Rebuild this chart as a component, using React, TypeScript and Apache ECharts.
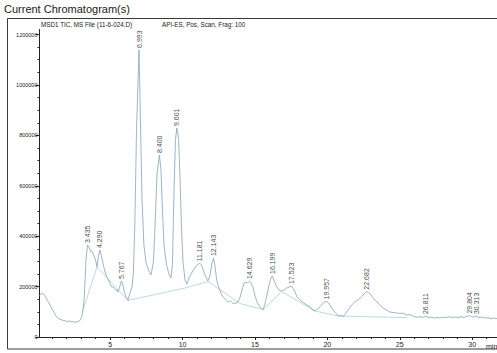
import React, { useEffect, useRef } from "react";
import * as echarts from "echarts";

// Retention time (min)
const times = [
  0.12, 0.3, 0.45, 0.57, 0.77, 1.03, 1.26, 1.45, 1.6, 1.75, 1.88, 2.0, 2.15, 2.3, 2.43, 2.6, 2.71, 2.82, 2.91,
  3.05, 3.13, 3.21, 3.28, 3.33, 3.435, 3.54, 3.67, 3.75, 3.81, 3.92, 4.02, 4.09, 4.19, 4.29, 4.4, 4.5, 4.61,
  4.71, 4.85, 4.99, 5.12, 5.2, 5.26, 5.4, 5.48, 5.54, 5.64, 5.767, 5.85, 5.95, 6.09, 6.23, 6.37, 6.51, 6.61,
  6.71, 6.82, 6.993, 7.09, 7.2, 7.33, 7.47, 7.64, 7.82, 7.99, 8.13, 8.23, 8.4, 8.51, 8.61, 8.72, 8.89, 9.06,
  9.2, 9.3, 9.41, 9.51, 9.601, 9.72, 9.82, 9.92, 10.03, 10.17, 10.3, 10.44, 10.63, 10.79, 10.93, 11.05,
  11.181, 11.31, 11.44, 11.58, 11.75, 11.89, 12.02, 12.143, 12.24, 12.36, 12.51, 12.7, 12.86, 13.0, 13.16,
  13.31, 13.45, 13.62, 13.79, 13.96, 14.1, 14.24, 14.38, 14.48, 14.629, 14.74, 14.88, 15.0, 15.17, 15.35,
  15.55, 15.69, 15.83, 15.97, 16.11, 16.199, 16.31, 16.48, 16.66, 16.84, 17.0, 17.18, 17.35, 17.523, 17.62,
  17.76, 17.9, 18.11, 18.32, 18.57, 18.73, 18.87, 19.0, 19.14, 19.32, 19.49, 19.66, 19.8, 19.957, 20.09,
  20.3, 20.46, 20.59, 20.76, 20.91, 21.1, 21.28, 21.44, 21.63, 21.91, 22.11, 22.37, 22.53, 22.682, 22.84,
  23.01, 23.17, 23.36, 23.49, 23.63, 23.84, 24.09, 24.32, 24.53, 24.78, 25.01, 25.22, 25.48, 25.7, 25.91,
  26.17, 26.4, 26.61, 26.811, 26.95, 27.16, 27.36, 27.57, 27.78, 27.98, 28.19, 28.4, 28.61, 28.81, 29.02,
  29.23, 29.43, 29.64, 29.804, 29.95, 30.09, 30.313, 30.47, 30.68, 30.88, 31.09, 31.3, 31.5, 31.71, 31.92,
  32.2, 32.5, 32.8, 33.0,
];

// TIC abundance
const intensity = [
  166000, 174000, 168000, 155000, 135000, 107000, 83000, 72000, 69000, 66000, 65000, 61000, 63500, 60000,
  61500, 58000, 60000, 62000, 65000, 83000, 110000, 159000, 240000, 305000, 365000, 357000, 337000, 340000,
  333000, 317000, 298000, 278000, 321000, 345000, 321000, 294000, 266000, 246000, 230000, 210000, 198000,
  200000, 194000, 186000, 188000, 179000, 194000, 222000, 214000, 186000, 159000, 145000, 175000, 198000,
  258000, 464000, 821000, 1139000, 861000, 544000, 365000, 298000, 266000, 246000, 298000, 484000, 643000,
  722000, 663000, 504000, 365000, 286000, 250000, 234000, 286000, 583000, 782000, 829000, 790000, 643000,
  444000, 298000, 226000, 210000, 234000, 254000, 270000, 282000, 288000, 292000, 286000, 262000, 242000,
  222000, 242000, 290000, 313000, 282000, 226000, 194000, 167000, 155000, 147000, 139000, 143000, 135000,
  133000, 137000, 155000, 186000, 214000, 218000, 214000, 222000, 214000, 194000, 163000, 135000, 119000,
  107000, 131000, 167000, 206000, 234000, 242000, 226000, 202000, 186000, 183000, 186000, 194000, 198000,
  202000, 194000, 181000, 159000, 147000, 137000, 127000, 123000, 115000, 107000, 104000, 111000, 120000,
  131000, 139000, 141000, 135000, 114000, 103000, 95000, 83000, 87000, 81000, 95000, 107000, 123000, 140000,
  147000, 160000, 171000, 180000, 177000, 167000, 154000, 143000, 135000, 127000, 115000, 107000, 99000,
  97000, 96000, 93000, 95000, 87000, 89000, 83000, 78000, 81000, 77000, 83000, 77000, 79000, 75000, 78000,
  75000, 79000, 77000, 81000, 77000, 79000, 77000, 81000, 78000, 82000, 85000, 81000, 79000, 83000, 77000,
  79000, 75000, 77000, 73000, 75000, 73000, 75000, 72000, 74000, 71000, 73000,
];

// Integration baseline (drop points)
const baseTimes = [3.1, 4.09, 6.23, 10.28, 11.77, 13.96, 15.57, 16.84, 19.16, 20.75, 25.48];
const baseValues = [103000, 278000, 145000, 196000, 220000, 133000, 109000, 180000, 103000, 83000, 77000];

// Peak labels
const peakLabels = [
  "3.435", "4.290", "5.767", "6.993", "8.400", "9.601", "11.181", "12.143",
  "14.629", "16.199", "17.523", "19.957", "22.682", "26.811", "29.804", "30.313",
];
const peakHeights = [
  365000, 345000, 222000, 1139000, 722000, 829000, 292000, 313000,
  222000, 242000, 202000, 141000, 180000, 83000, 85000, 83000,
];

const xMajor = [5, 10, 15, 20, 25, 30];
const xMinor = [1, 2, 3, 4, 6, 7, 8, 9, 11, 12, 13, 14, 16, 17, 18, 19, 21, 22, 23, 24, 26, 27, 28, 29, 31, 32, 33];
const yMajor = [0, 200000, 400000, 600000, 800000, 1000000, 1200000];
const yMinor = [50000, 100000, 150000, 250000, 300000, 350000, 450000, 500000, 550000, 650000, 700000, 750000,
  850000, 900000, 950000, 1050000, 1100000, 1150000];

const title = "Current Chromatogram(s)";
const subtitle1 = "MSD1 TIC, MS File (11-6-024.D)";
const subtitle2 = "API-ES, Pos, Scan, Frag: 100";
const xUnit = "min";

const FONT = "'Liberation Sans', Arial, sans-serif";

export default function App() {
  const ref = useRef<HTMLDivElement>(null);
  useEffect(() => {
    if (!ref.current) return;
    const chart = echarts.init(ref.current, null, { renderer: "svg" });
    const line = times.map((t, i) => [t, intensity[i]]);
    const base = baseTimes.map((t, i) => [t, baseValues[i]]);
    const peaks = peakLabels.map((l, i) => [parseFloat(l), peakHeights[i], l]);
    const axisColor = "#222";
    const xMin = 0.12, xMax = 33, yMax = 1220000;
    chart.setOption({
      animation: false,
      grid: { left: 39.5, right: 24.4, top: 29.5, bottom: 16 },
      graphic: [
        { type: "rect", z: -1, shape: { x: 7.5, y: 18.5, width: 600, height: 330.5 }, style: { fill: "none", stroke: "#3a3a3a", lineWidth: 1 } },
        { type: "text", left: 4, top: 3, style: { text: title, fontSize: 11, fontFamily: FONT, fill: "#222" } },
        { type: "text", left: 41, top: 21.5, style: { text: subtitle1, fontSize: 6.3, fontFamily: FONT, fill: "#222" } },
        { type: "text", left: 162, top: 21.5, style: { text: subtitle2, fontSize: 6.3, fontFamily: FONT, fill: "#222" } },
        { type: "text", left: 486, top: 342.5, style: { text: xUnit, fontSize: 7, fontFamily: FONT, fill: "#222" } },
      ],
      xAxis: [
        {
          type: "value", min: xMin, max: xMax, position: "bottom",
          axisLine: { lineStyle: { color: axisColor, width: 1 } },
          axisTick: { show: true, length: 3, customValues: xMajor, lineStyle: { color: axisColor } },
          axisLabel: { customValues: xMajor, fontSize: 7, fontFamily: FONT, color: "#222", margin: 4 },
          splitLine: { show: false },
        },
        {
          type: "value", min: xMin, max: xMax, position: "bottom",
          axisLine: { show: false },
          axisTick: { show: true, length: 2, customValues: xMinor, lineStyle: { color: axisColor } },
          axisLabel: { show: false },
          splitLine: { show: false },
        },
      ],
      yAxis: [
        {
          type: "value", min: 0, max: yMax, position: "left",
          axisLine: { show: true, lineStyle: { color: axisColor, width: 1 } },
          axisTick: { show: true, length: 4, customValues: yMajor, lineStyle: { color: axisColor } },
          axisLabel: {
            customValues: yMajor, fontSize: 5.5, fontFamily: FONT, color: "#222", margin: 2,
            formatter: (v: number) => String(v),
          },
          splitLine: { show: false },
        },
        {
          type: "value", min: 0, max: yMax, position: "left",
          axisLine: { show: false },
          axisTick: { show: true, length: 2, customValues: yMinor, lineStyle: { color: axisColor } },
          axisLabel: { show: false },
          splitLine: { show: false },
        },
      ],
      series: [
        {
          type: "line", data: base, xAxisIndex: 0, yAxisIndex: 0, symbol: "none",
          lineStyle: { color: "#a6d3cc", width: 0.8 }, silent: true, z: 1,
        },
        {
          type: "line", data: line, xAxisIndex: 0, yAxisIndex: 0, symbol: "none",
          lineStyle: { color: "#86a3b8", width: 0.8 }, silent: true, z: 2,
        },
        {
          type: "scatter", data: peaks, xAxisIndex: 0, yAxisIndex: 0, symbolSize: 0, silent: true, z: 3,
          label: {
            show: true, formatter: (p: any) => p.value[2], position: "top", distance: 2, rotate: 90,
            align: "left", verticalAlign: "middle", fontSize: 7, fontFamily: FONT, color: "#111",
          },
        },
      ],
    });
    return () => chart.dispose();
  }, []);
  return (
    <div
      ref={ref}
      style={{ position: "fixed", left: 0, top: 0, width: 540, height: 353, background: "#fff" }}
    />
  );
}
